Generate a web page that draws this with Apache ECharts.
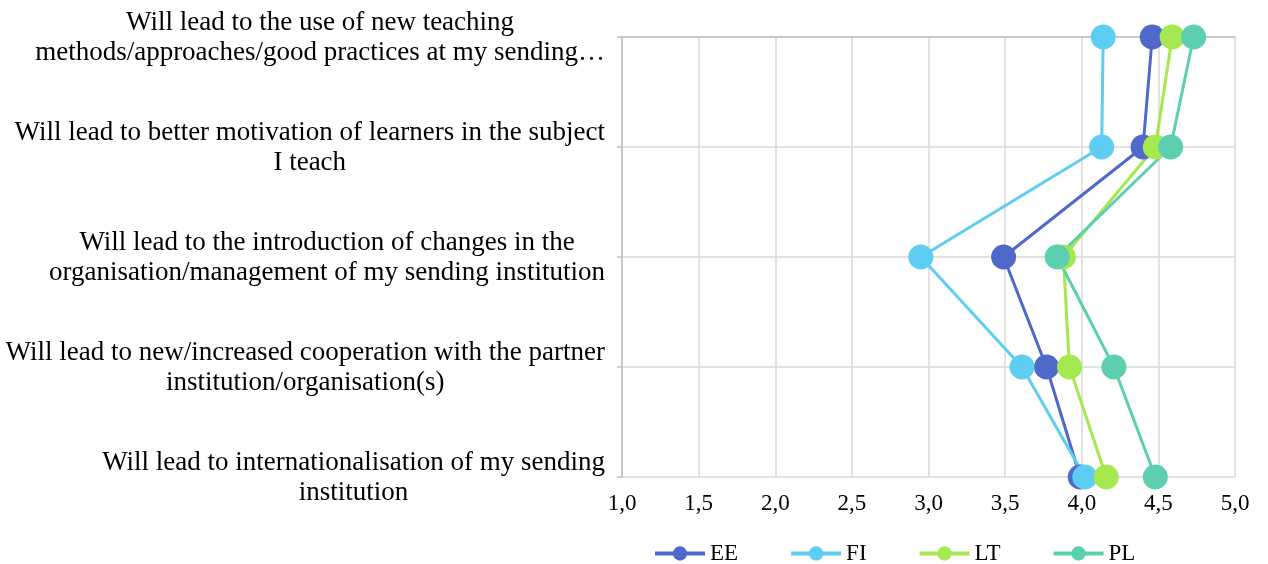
<!DOCTYPE html>
<html>
<head>
<meta charset="utf-8">
<script src="https://cdn.jsdelivr.net/npm/echarts@6/dist/echarts.min.js"></script>
<style>
html, body { margin: 0; padding: 0; background: #fff; }
#chart { width: 1268px; height: 564px; }
</style>
</head>
<body>
<div id="chart"></div>
<script>
// categories, top to bottom
var categories = [
	'Will lead to the use of new teaching\nmethods/approaches/good practices at my sending…',
	'Will lead to better motivation of learners in the subject\nI teach',
	'Will lead to the introduction of changes in the\norganisation/management of my sending institution',
	'Will lead to new/increased cooperation with the partner\ninstitution/organisation(s)',
	'Will lead to internationalisation of my sending\ninstitution'
];
var seriesNames = ['EE', 'FI', 'LT', 'PL'];
var eeData = [4.46, 4.40, 3.49, 3.77, 3.99];
var fiData = [4.14, 4.13, 2.95, 3.61, 4.02];
var ltData = [4.59, 4.48, 3.88, 3.92, 4.16];
var plData = [4.73, 4.58, 3.84, 4.21, 4.48];
var colors = ['#4e69c9', '#5ecdf2', '#a6e84f', '#5ccfb0'];

var font = 'Liberation Serif';
var myChart = echarts.init(document.getElementById('chart'));

function mkSeries(name, data, color) {
	return {
		name : name,
		type : 'line',
		data : data,
		symbol : 'circle',
		symbolSize : 25,
		color : color,
		lineStyle : { width : 3, color : color },
		itemStyle : { color : color },
		emphasis : { disabled : true },
		animation : false
	};
}

var option = {
	backgroundColor : '#fff',
	grid : { left : 622, right : 33, top : 37, bottom : 87 },
	legend : {
		top : 542,
		left : 653,
		padding : 0,
		itemWidth : 50,
		itemHeight : 18,
		itemGap : 51,
		lineStyle : { width : 4 },
		textStyle : { fontFamily : font, fontSize : 23, color : '#000' },
		data : seriesNames
	},
	xAxis : [ {
		type : 'value',
		min : 1,
		max : 5,
		interval : 0.5,
		axisLine : { show : false },
		axisTick : { show : false },
		splitLine : { lineStyle : { color : '#d9d9d9', width : 1.5 } },
		axisLabel : {
			margin : 15,
			fontFamily : font,
			fontSize : 23,
			color : '#000',
			formatter : function(v) { return v.toFixed(1).replace('.', ','); }
		}
	}, {
		type : 'value',
		position : 'top',
		min : 1,
		max : 5,
		axisLine : { show : true, lineStyle : { color : '#bfbfbf', width : 1.5 } },
		axisTick : { show : false },
		axisLabel : { show : false },
		splitLine : { show : false }
	} ],
	yAxis : {
		type : 'category',
		inverse : true,
		boundaryGap : false,
		data : categories,
		axisLine : { lineStyle : { color : '#bfbfbf', width : 1.5 } },
		axisTick : { length : 5, lineStyle : { color : '#bfbfbf', width : 1.5 } },
		splitLine : { show : true, lineStyle : { color : '#d9d9d9', width : 1.5 } },
		axisLabel : {
			margin : 17,
			align : 'right',
			color : '#000',
			fontFamily : font,
			fontSize : 27,
			formatter : function(v) {
				return v.split('\n').map(function(s) { return '{c|' + s + '}'; }).join('\n');
			},
			rich : {
				c : { align : 'center', fontFamily : font, fontSize : 27, lineHeight : 30, color : '#000', padding : [2, 0, 0, 0] }
			}
		}
	},
	series : [
		mkSeries('EE', eeData, colors[0]),
		mkSeries('FI', fiData, colors[1]),
		mkSeries('LT', ltData, colors[2]),
		mkSeries('PL', plData, colors[3])
	]
};
myChart.setOption(option);
</script>
</body>
</html>
